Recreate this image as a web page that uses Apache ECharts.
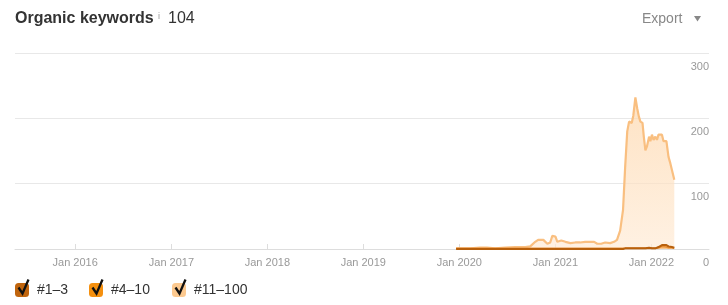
<!DOCTYPE html>
<html>
<head>
<meta charset="utf-8">
<script src="https://cdn.jsdelivr.net/npm/echarts@6/dist/echarts.min.js"></script>
<style>
  html, body { margin: 0; padding: 0; background: #fff; }
  #chart { width: 728px; height: 305px; }
</style>
</head>
<body>
<div id="chart"></div>
<script>
const dates = [
  '2019-12-20','2020-02-12','2020-03-20','2020-04-15','2020-05-17','2020-06-24','2020-08-01','2020-09-08',
  '2020-09-27','2020-10-16','2020-10-27','2020-11-16','2020-12-01','2020-12-12','2020-12-20','2021-01-01',
  '2021-01-08','2021-01-23','2021-02-08','2021-02-27','2021-03-17','2021-04-05','2021-04-24','2021-05-13',
  '2021-05-28','2021-06-09','2021-06-24','2021-07-09','2021-07-28','2021-08-12','2021-08-23','2021-09-04',
  '2021-09-15','2021-09-23','2021-10-01','2021-10-08','2021-10-18','2021-10-24','2021-11-01','2021-11-08',
  '2021-11-14','2021-11-20','2021-11-28','2021-12-03','2021-12-09','2021-12-15','2021-12-23','2021-12-28',
  '2022-01-03','2022-01-09','2022-01-16','2022-01-22','2022-01-28','2022-02-04','2022-02-10','2022-02-16',
  '2022-02-27','2022-03-07','2022-03-14','2022-03-20','2022-03-29'
];
const top3 = [
  0,0,0,0,0,0,0,0,
  0,0,0,0,0,0,0,0,
  0,0,0,0,0,0,0,0,
  0,0,0,0,0,0,0,0,
  0,1,1,1,1,1,1,1,
  1,1,1,1,1,1,2,1,
  1,1,1,2,3,5,6,7,
  6,4,3,3,2
];
const top10 = [
  1,1,1,1,1,1,1,1,
  1,1,1,1,1,1,1,1,
  1,1,1,1,1,1,1,1,
  1,1,1,1,1,1,1,1,
  1,1,1,1,1,1,1,1,
  1,1,1,1,1,1,1,1,
  1,1,1,2,2,3,4,4,
  3,2,2,2,1
];
const top100 = [
  1,1,2,2,1,2,3,3,
  4,11,14,14,8,10,20,19,
  11,13,11,9,10,10,11,11,
  11,8,8,10,9,11,14,28,
  60,125,180,195,193,204,232,215,
  203,195,193,172,151,157,172,165,
  175,167,172,167,175,172,175,165,
  165,141,131,121,106
];
const yTicks = [0, 100, 200, 300];
const seriesNames = ['#1–3', '#4–10', '#11–100'];
const seriesColors = ['#c0650e', '#f5900f', '#fcc98f'];

const pair = (vals) => dates.map((d, i) => [d, vals[i]]);
const FONT = '"Liberation Sans", Arial, Helvetica, sans-serif';
const YEAR = 365.25 * 24 * 3600 * 1000;

const chart = echarts.init(document.getElementById('chart'), null, { renderer: 'canvas' });

const legendLefts = [15, 89, 172];
const legends = seriesNames.map((n, i) => ({
  data: [n],
  left: legendLefts[i],
  top: 283,
  padding: 0,
  itemWidth: 14,
  itemHeight: 14,
  icon: 'roundRect',
  selectedMode: false,
  itemStyle: { color: seriesColors[i], borderWidth: 0 },
  textStyle: { fontSize: 14, color: '#333', fontFamily: FONT, padding: [0, 0, 0, 3] }
}));

const checks = legendLefts.map((x) => ({
  type: 'polyline',
  z: 100,
  shape: { points: [[x + 3.5, 287.5], [x + 7.5, 293.5], [x + 13.5, 279.5]] },
  style: { stroke: '#111', lineWidth: 2.3, fill: null, lineJoin: 'miter' }
}));

chart.setOption({
  animation: false,
  textStyle: { fontFamily: FONT },
  grid: { left: 15, right: 19, top: 53, bottom: 56, containLabel: false },
  legend: legends,
  graphic: [
    { type: 'text', left: 15, top: 11, style: { text: 'Organic keywords', font: 'bold 16px ' + FONT, fill: '#333' } },
    { type: 'text', left: 158, top: 12, style: { text: 'i', font: '9px ' + FONT, fill: '#999' } },
    { type: 'text', left: 168, top: 11, style: { text: '104', font: '16px ' + FONT, fill: '#333' } },
    { type: 'text', left: 642, top: 12, style: { text: 'Export', font: '14px ' + FONT, fill: '#888' } },
    { type: 'polygon', shape: { points: [[694, 16], [701, 16], [697.5, 21.5]] }, style: { fill: '#888' } },
    ...checks
  ],
  xAxis: {
    type: 'time',
    min: '2015-05-17',
    max: '2022-08-08',
    minInterval: YEAR,
    maxInterval: YEAR,
    axisLine: { show: true, lineStyle: { color: '#ddd', width: 1 } },
    axisTick: { show: true, inside: true, length: 5, lineStyle: { color: '#ddd' } },
    splitLine: { show: false },
    axisLabel: {
      color: '#999', fontSize: 11, margin: 8, fontFamily: FONT,
      formatter: (v) => 'Jan ' + new Date(v).getFullYear()
    }
  },
  yAxis: {
    type: 'value',
    position: 'right',
    min: yTicks[0],
    max: yTicks[yTicks.length - 1],
    interval: 100,
    axisLine: { show: false },
    axisTick: { show: false },
    splitLine: { show: true, lineStyle: { color: '#e8e8e8', width: 1 } },
    axisLabel: {
      inside: true, margin: 0, align: 'right', verticalAlign: 'top',
      padding: [8, 0, 0, 0], color: '#999', fontSize: 11, fontFamily: FONT
    }
  },
  series: [
    {
      name: seriesNames[2], type: 'line', data: pair(top100), showSymbol: false, z: 2,
      lineStyle: { color: '#f9bf80', width: 2.2 },
      itemStyle: { color: seriesColors[2] },
      areaStyle: {
        color: new echarts.graphic.LinearGradient(0, 0, 0, 1, [
          { offset: 0, color: '#fdd6aa' }, { offset: 1, color: '#feead5' }
        ])
      }
    },
    {
      name: seriesNames[1], type: 'line', data: pair(top10), showSymbol: false, z: 3,
      lineStyle: { color: '#e9923a', width: 1.6 },
      itemStyle: { color: seriesColors[1] },
      areaStyle: { color: 'rgba(245,144,15,0.35)' }
    },
    {
      name: seriesNames[0], type: 'line', data: pair(top3), showSymbol: false, z: 4,
      lineStyle: { color: '#b8600c', width: 2 },
      itemStyle: { color: seriesColors[0] },
      areaStyle: { color: 'rgba(230,130,30,0.35)' }
    }
  ]
});
</script>
</body>
</html>
